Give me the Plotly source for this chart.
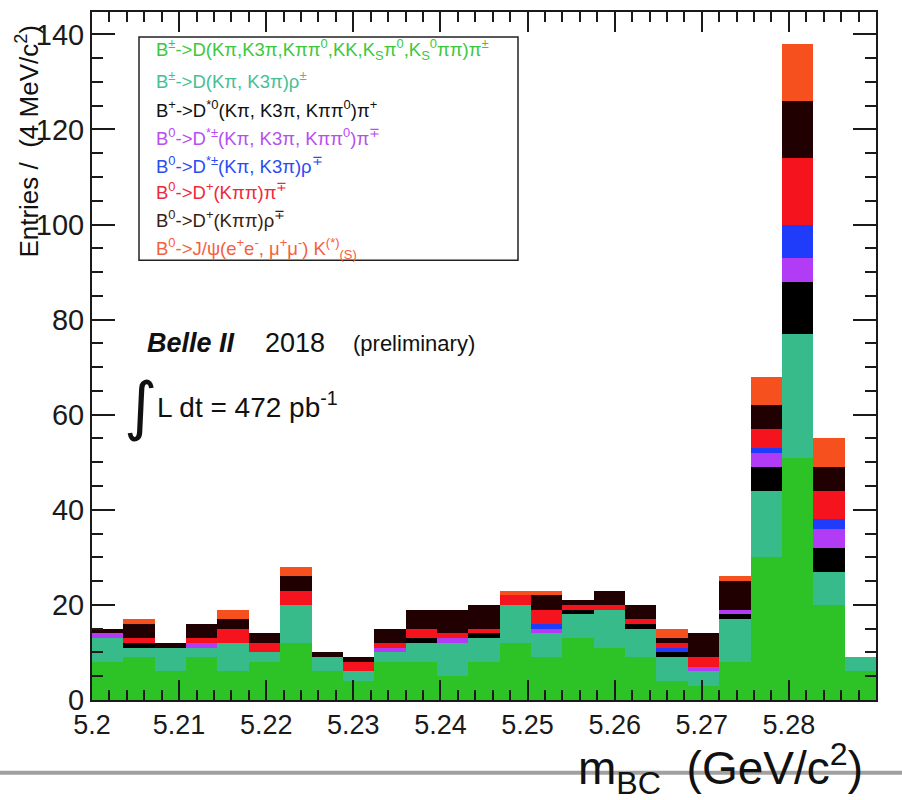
import plotly.graph_objects as go

# Histogram binning (m_BC in GeV/c^2)
BIN_LO = 5.2
BIN_WIDTH = 0.0036
N_BINS = 25

# Entries per bin for each decay category (stacked bottom -> top)
b_d_pi = [8, 9, 6, 9, 6, 8, 12, 6, 4, 8, 8, 5, 8, 12, 9, 13, 11, 9, 4, 3, 8, 30, 51, 20, 6]
b_d_rho = [5, 2, 5, 2, 6, 2, 8, 3, 2, 2, 4, 7, 5, 8, 5, 5, 8, 6, 5, 3, 9, 14, 26, 7, 3]
b_dst0_pi = [0, 1, 0, 0, 0, 0, 0, 0, 0, 0, 1, 0, 1, 0, 0, 1, 0, 1, 1, 0, 1, 5, 11, 5, 0]
b0_dst_pi = [1, 0, 0, 1, 0, 0, 0, 0, 0, 1, 0, 1, 0, 0, 1, 0, 0, 0, 0, 1, 1, 3, 5, 4, 0]
b0_dst_rho = [0, 0, 0, 0, 0, 0, 0, 0, 0, 0, 0, 0, 0, 0, 1, 0, 0, 0, 1, 0, 0, 1, 7, 2, 0]
b0_dp_pi = [0, 1, 0, 1, 3, 2, 3, 0, 2, 1, 2, 1, 1, 2, 3, 1, 1, 1, 1, 2, 0, 4, 14, 6, 0]
b0_dp_rho = [1, 3, 1, 3, 2, 2, 3, 1, 1, 3, 4, 5, 5, 0, 3, 1, 3, 3, 1, 5, 6, 5, 12, 5, 0]
b0_jpsi_k = [0, 1, 0, 0, 2, 0, 2, 0, 0, 0, 0, 0, 0, 1, 1, 0, 0, 0, 2, 0, 1, 6, 12, 6, 0]

series_values = [b_d_pi, b_d_rho, b_dst0_pi, b0_dst_pi, b0_dst_rho, b0_dp_pi, b0_dp_rho, b0_jpsi_k]

series_labels = [
    "B<sup>±</sup>->D(Kπ,K3π,Kππ<sup>0</sup>,KK,K<sub>S</sub>π<sup>0</sup>,K<sub>S</sub><sup>0</sup>ππ)π<sup>±</sup>",
    "B<sup>±</sup>->D(Kπ, K3π)ρ<sup>±</sup>",
    "B<sup>+</sup>->D<sup>*0</sup>(Kπ, K3π, Kππ<sup>0</sup>)π<sup>+</sup>",
    "B<sup>0</sup>->D<sup>*±</sup>(Kπ, K3π, Kππ<sup>0</sup>)π<sup>∓</sup>",
    "B<sup>0</sup>->D<sup>*±</sup>(Kπ, K3π)ρ<sup>∓</sup>",
    "B<sup>0</sup>->D<sup>+</sup>(Kππ)π<sup>∓</sup>",
    "B<sup>0</sup>->D<sup>+</sup>(Kππ)ρ<sup>∓</sup>",
    "B<sup>0</sup>->J/ψ(e<sup>+</sup>e<sup>-</sup>, μ<sup>+</sup>μ<sup>-</sup>) K<sup>(*)</sup><sub>(S)</sub>",
]
series_colors = ["#2dc226", "#38bb8a", "#000000", "#b23cf5", "#1e3cfa", "#f5141e", "#200000", "#f5501e"]
label_colors = ["#3cc83c", "#45c095", "#111111", "#b84ef0", "#2a4cf5", "#f0283a", "#3a2010", "#f56040"]

x_tick_vals = [5.20, 5.21, 5.22, 5.23, 5.24, 5.25, 5.26, 5.27, 5.28, 5.29]
x_tick_text = ["5.2", "5.21", "5.22", "5.23", "5.24", "5.25", "5.26", "5.27", "5.28", "5.29"]

# Page geometry (pixels)
W, H = 902, 800
ML, MR, MT, MB = 92, 26, 10, 100
PW, PH = W - ML - MR, H - MT - MB


def px(x):
    return (x - ML) / PW


def py(y):
    return (H - MB - y) / PH


FONT = "Liberation Sans, Arial, Helvetica, sans-serif"

centers = [BIN_LO + (i + 0.5) * BIN_WIDTH for i in range(N_BINS)]

fig = go.Figure()
for vals, col in zip(series_values, series_colors):
    fig.add_trace(go.Bar(
        x=centers, y=vals, width=BIN_WIDTH,
        marker=dict(color=col, line=dict(width=0)),
        showlegend=False,
    ))

axis_common = dict(
    showline=True, linecolor="#1a1a1a", linewidth=2, mirror="ticks",
    ticks="inside", tickcolor="#1a1a1a", tickwidth=2,
    showgrid=False, zeroline=False,
)

fig.update_xaxes(
    range=[5.2, 5.29], tickvals=x_tick_vals, ticktext=x_tick_text, ticklen=20,
    tickfont=dict(family=FONT, size=27, color="#1a1a1a"),
    minor=dict(dtick=0.002, tick0=5.2, ticks="inside", ticklen=10, tickcolor="#1a1a1a", tickwidth=2),
    **axis_common,
)
fig.update_yaxes(
    range=[0, 144.7], dtick=20, tick0=0, ticklen=23,
    tickfont=dict(family=FONT, size=29, color="#1a1a1a"),
    minor=dict(dtick=5, tick0=0, ticks="inside", ticklen=11, tickcolor="#1a1a1a", tickwidth=2),
    **axis_common,
)

annotations = []
shapes = []

# Legend box with coloured entries
shapes.append(dict(type="rect", xref="paper", yref="paper",
                   x0=px(139), x1=px(518), y0=py(259), y1=py(35),
                   line=dict(color="#222222", width=1.5), fillcolor="white", layer="above"))
legend_y = [48, 78, 107, 135, 163, 190, 218, 247]
for lbl, col, yy in zip(series_labels, label_colors, legend_y):
    annotations.append(dict(text=lbl, x=px(154), y=py(yy), xref="paper", yref="paper",
                            xanchor="left", yanchor="middle", showarrow=False,
                            font=dict(family=FONT, size=18.5, color=col)))

# Experiment labels
annotations += [
    dict(text="<b><i>Belle II</i></b>", x=px(145), y=py(342), font=dict(family=FONT, size=27, color="#111")),
    dict(text="2018", x=px(263), y=py(342), font=dict(family=FONT, size=27, color="#111")),
    dict(text="(preliminary)", x=px(351), y=py(342), font=dict(family=FONT, size=22, color="#111")),
    dict(text="∫", x=px(122), y=py(405), font=dict(family="DejaVu Sans, " + FONT, size=64, color="#111")),
    dict(text="L dt = 472 pb<sup>-1</sup>", x=px(155), y=py(404), font=dict(family=FONT, size=28, color="#111")),
]
for a in annotations[-5:]:
    a.update(xref="paper", yref="paper", xanchor="left", yanchor="middle", showarrow=False)

# Axis titles
annotations.append(dict(text="Entries /  (4 MeV/c<sup>2</sup>)", x=px(28), y=py(140),
                        xref="paper", yref="paper", xanchor="center", yanchor="middle",
                        textangle=-90, showarrow=False,
                        font=dict(family=FONT, size=26, color="#111")))
annotations.append(dict(text="m<sub>BC</sub>  (GeV/c<sup>2</sup>)", x=px(576), y=py(769),
                        xref="paper", yref="paper", xanchor="left", yanchor="middle",
                        showarrow=False, font=dict(family=FONT, size=46, color="#111")))

# Grey rule across the bottom of the page
shapes.append(dict(type="line", xref="paper", yref="paper",
                   x0=px(0), x1=px(W), y0=py(773), y1=py(773),
                   line=dict(color="#a0a0a0", width=4), layer="below"))

fig.update_layout(
    width=W, height=H,
    margin=dict(l=ML, r=MR, t=MT, b=MB),
    barmode="stack", bargap=0,
    plot_bgcolor="white", paper_bgcolor="white",
    annotations=annotations, shapes=shapes,
    font=dict(family=FONT),
)

fig.write_html("out.html", config={"displayModeBar": False})
